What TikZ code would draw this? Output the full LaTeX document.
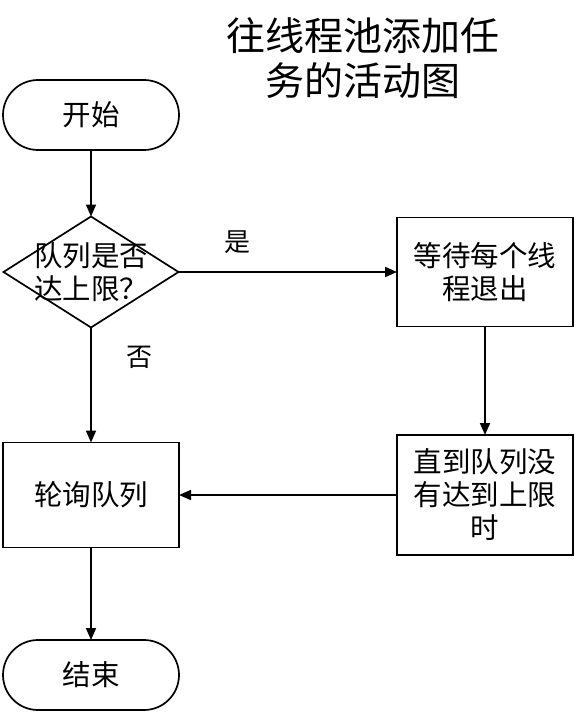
\documentclass[tikz,border=0pt]{standalone}
\usepackage{fontspec}
\setmainfont{Noto Sans CJK SC}
\usetikzlibrary{shapes.geometric,arrows.meta}
\begin{document}
\begin{tikzpicture}[x=1pt,y=-1pt,
  every node/.style={inner sep=0pt,outer sep=0pt},
  box/.style={draw,line width=1.7pt,minimum width=176pt,align=center,font=\fontsize{28.5}{33}\selectfont},
  term/.style={box,rounded corners=35pt,minimum height=70pt},
  arr/.style={line width=1.7pt,-{Triangle[length=12pt,width=10pt]}},
  lbl/.style={font=\fontsize{26}{30}\selectfont}]
\useasboundingbox (0,0) rectangle (576,714);
\node[align=center,font=\fontsize{39}{45}\selectfont] (title) at (363,58) {往线程池添加任\\务的活动图};
\node[term] (start) at (91,115) {开始};
\node[draw,line width=1.7pt,shape=diamond,inner sep=0pt,minimum width=175pt,minimum height=111pt,aspect=1.58] (dec) at (91,272) {};
\node[align=center,font=\fontsize{28.5}{33}\selectfont] (dectxt) at (91,272) {队列是否\\达上限？};
\node[box,minimum height=109pt] (wait) at (485,272) {等待每个线\\程退出};
\node[box,minimum height=120pt] (until) at (485,495) {直到队列没\\有达到上限\\时};
\node[box,minimum height=105pt] (poll) at (91,495) {轮询队列};
\node[term] (end) at (91,675) {结束};
\draw[arr] (start.south) -- (dec.north);
\draw[arr] (dec.east) -- (wait.west) node[lbl,pos=0.27,above=18pt] (yes) {是};
\draw[arr] (dec.south) -- (poll.north) node[lbl,pos=0.26,right=35pt] (no) {否};
\draw[arr] (wait.south) -- (until.north);
\draw[arr] (until.west) -- (poll.east);
\draw[arr] (poll.south) -- (end.north);
\end{tikzpicture}
\end{document}
